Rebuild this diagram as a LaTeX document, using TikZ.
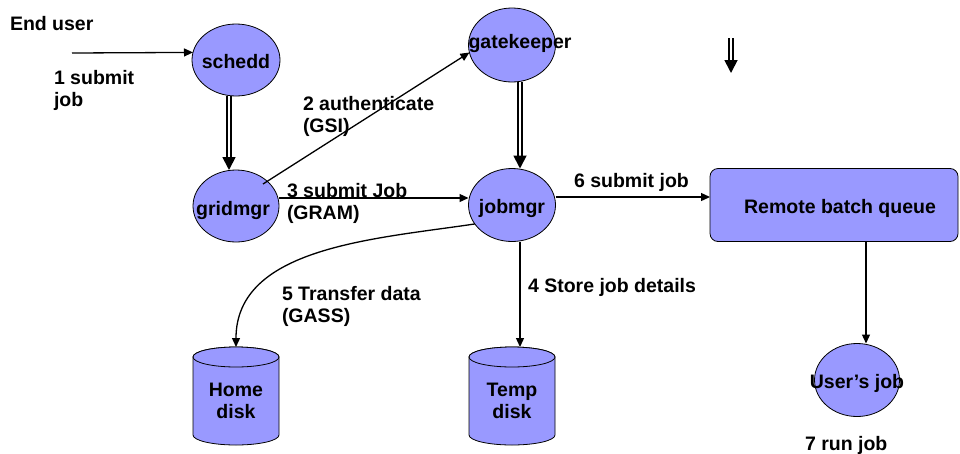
\documentclass[tikz,border=0pt]{standalone}
\usepackage{fontspec}
\setmainfont{Liberation Sans}
\usetikzlibrary{arrows.meta,shapes.geometric,calc}
\definecolor{nodefill}{HTML}{9999FF}
\begin{document}
\begin{tikzpicture}[x=1pt,y=-1pt,
  every node/.style={font=\bfseries\fontsize{19.5}{22.5}\selectfont, inner sep=0pt, outer sep=0pt},
  bubble/.style={ellipse, draw=black, line width=0.8pt, fill=nodefill},
  boxq/.style={draw=black, line width=0.8pt, fill=nodefill, rounded corners=8pt},
  diskbody/.style={draw=black, line width=0.8pt, fill=nodefill},
  arr/.style={line width=1.3pt, -{Triangle[length=9pt,width=8pt]}},
  dbl/.style={double, double distance=2.6pt, line width=1.8pt, -{Triangle[length=13pt,width=13pt]}},
  txt/.style={anchor=base west},
  mtxt/.style={anchor=north west, align=left},
]
\useasboundingbox (0,0) rectangle (960,453);

% bubbles
\node[bubble, minimum width=88pt, minimum height=72pt] (schedd) at (236,60) {};
\node[bubble, minimum width=86pt, minimum height=72pt] (gridmgr) at (236,206) {};
\node[bubble, minimum width=87pt, minimum height=74pt] (gatekeeper) at (512,45) {};
\node[bubble, minimum width=87pt, minimum height=73pt] (jobmgr) at (512,205) {};
\node[bubble, minimum width=85pt, minimum height=73pt] (userjob) at (857,380) {};
\node[boxq, minimum width=248pt, minimum height=73pt] (queue) at (834,205) {};

% disks
\node[minimum width=86pt, minimum height=98pt] (home) at (236,396) {};
\node[minimum width=86pt, minimum height=98pt] (temp) at (512,396) {};
\foreach \n in {home,temp}{
  \path[diskbody] ([shift={(0,10)}]\n.north west) -- ([shift={(0,-10)}]\n.south west)
    arc[start angle=180, end angle=360, x radius=43pt, y radius=10pt]
    -- ([shift={(0,10)}]\n.north east)
    arc[start angle=0, end angle=180, x radius=43pt, y radius=10pt] -- cycle;
  \path[diskbody] ([shift={(0,10)}]\n.north) ellipse[x radius=43pt, y radius=10pt];
}

% texts in shapes
\node[anchor=base] (scheddtext) at (236,68) {schedd};
\node[anchor=base] (gridmgrtext) at (233,215) {gridmgr};
\node[anchor=base] (gatekeepertext) at (520,48) {gatekeeper};
\node[anchor=base] (jobmgrtext) at (512,213) {jobmgr};
\node[anchor=base] (queuetext) at (840,213) {Remote batch queue};
\node[anchor=base] (userjobtext) at (857,388) {User’s job};
\node[anchor=north, align=center] (hometext) at (236,383) {Home\\disk};
\node[anchor=north, align=center] (temptext) at (512,383) {Temp\\disk};

% free labels
\node[txt] (enduser) at (10,30) {End user};
\node[mtxt] (l1) at (54,70) {1 submit\\job};
\node[mtxt] (l2) at (303,96) {2 authenticate\\(GSI)};
\node[mtxt] (l3) at (287,183) {3 submit Job\\(GRAM)};
\node[txt] (l4) at (528,292) {4 Store job details};
\node[mtxt] (l5) at (282,286) {5 Transfer data\\(GASS)};
\node[txt] (l6) at (574,187) {6 submit job};
\node[txt] (l7) at (805,450) {7 run job};

% connectors
\coordinate (eu) at (72,53);
\draw[arr] (eu) -- (schedd.170);
\draw[dbl] ([shift={(-7,0)}]schedd.south) -- ([shift={(-7,0)}]gridmgr.north);
\draw[arr] ([shift={(27,-22)}]gridmgr.center) -- (gatekeeper.190);
\draw[arr] ([shift={(0,-8)}]gridmgr.east) coordinate (g3) -- (g3 -| jobmgr.west);
\draw[dbl] ([shift={(8,0)}]gatekeeper.south) -- ([shift={(8,0)}]jobmgr.north);
\draw[arr] ([shift={(0,-8)}]jobmgr.east) coordinate (j6) -- (j6 -| queue.west);
\draw[arr] ([shift={(8,0)}]jobmgr.south) coordinate (j4) -- (j4 |- temp.north);
\draw[arr] (jobmgr.207) .. controls +(-100,15) and +(0,-100) .. (home.north);
\coordinate (uj) at ([shift={(9,0)}]userjob.north);
\draw[arr] (uj |- queue.south) -- (uj);
\coordinate (sa) at (731,38);
\coordinate (sb) at (731,73);
\draw[dbl] (sa) -- (sb);
\end{tikzpicture}
\end{document}
